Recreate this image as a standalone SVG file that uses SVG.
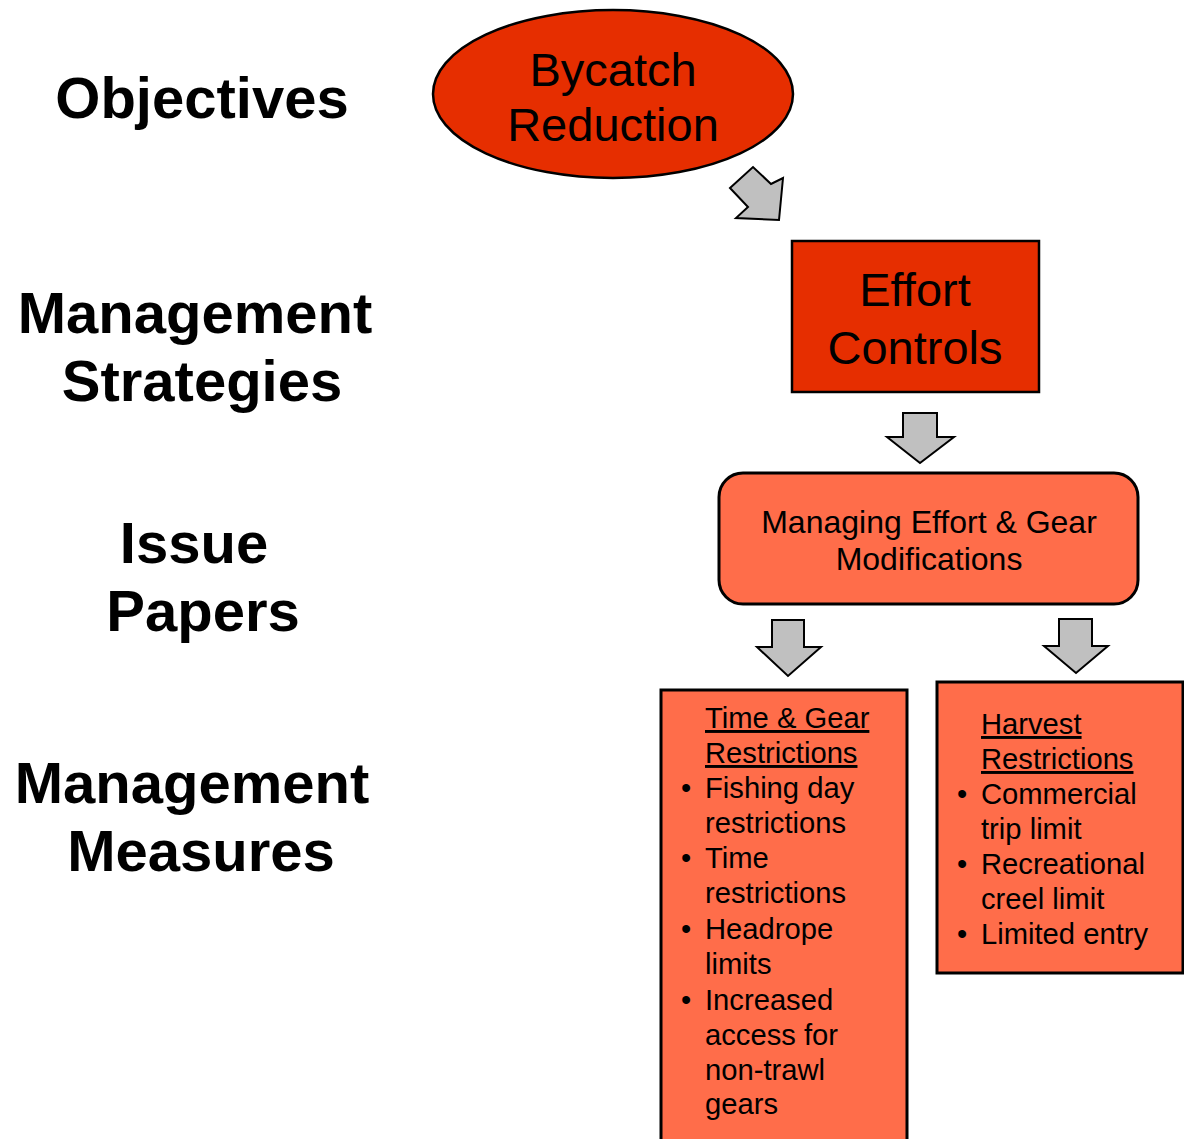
<svg xmlns="http://www.w3.org/2000/svg" width="1184" height="1139" viewBox="0 0 1184 1139">
<style>
  .lbl { font-family: "Liberation Sans", Arial, sans-serif; font-weight: bold; font-size: 58px; fill: #000; text-anchor: middle; }
  .big { font-family: "Liberation Sans", Arial, sans-serif; font-size: 47px; fill: #000; text-anchor: middle; }
  .mid { font-family: "Liberation Sans", Arial, sans-serif; font-size: 32px; fill: #000; text-anchor: middle; }
  .lst { font-family: "Liberation Sans", Arial, sans-serif; font-size: 29.2px; fill: #000; }
  .ul { text-decoration: underline; }
  .dark { fill: #E62E00; stroke: #000; stroke-width: 2.5; }
  .light { fill: #FF6D4A; stroke: #000; stroke-width: 3; }
  .arrow { fill: #C0C0C0; stroke: #000; stroke-width: 2; stroke-linejoin: miter; }
</style>
<rect width="1184" height="1139" fill="#fff"/>

<g id="labels">
  <text class="lbl" x="202" y="118">Objectives</text>
  <text class="lbl" x="195" y="333">Management</text>
  <text class="lbl" x="202" y="401">Strategies</text>
  <text class="lbl" x="194" y="563">Issue</text>
  <text class="lbl" x="203" y="631">Papers</text>
  <text class="lbl" x="192" y="803">Management</text>
  <text class="lbl" x="201" y="871">Measures</text>
</g>

<g id="connectors">
  <polygon class="arrow" points="730,188 753,167 771,184 783,178 779,220 736,218 748,207"/>
  <polygon class="arrow" points="903,413 937,413 937,437 954,437 920,463 887,437 903,437"/>
  <polygon class="arrow" points="772,620 804,620 804,647 821,647 788,676 757,647 772,647"/>
  <polygon class="arrow" points="1059,619 1092,619 1092,646 1108,646 1076,673 1044,646 1059,646"/>
</g>

<g id="bycatch-reduction">
  <ellipse class="dark" cx="613" cy="94" rx="180" ry="84" stroke-width="2"/>
  <text class="big" x="613" y="86">Bycatch</text>
  <text class="big" x="613" y="141">Reduction</text>
</g>

<g id="effort-controls">
  <rect class="dark" x="792" y="241" width="247" height="151"/>
  <text class="big" x="915" y="306">Effort</text>
  <text class="big" x="915" y="364">Controls</text>
</g>

<g id="managing-effort">
  <rect class="light" x="719" y="473" width="419" height="131" rx="24" ry="24" stroke-width="2.5"/>
  <text class="mid" x="929" y="533">Managing Effort &amp; Gear</text>
  <text class="mid" x="929" y="570">Modifications</text>
</g>

<g id="time-gear">
  <rect class="light" x="661" y="690" width="246" height="460"/>
  <text class="lst ul" x="705" y="728">Time &amp; Gear</text>
  <text class="lst ul" x="705" y="763">Restrictions</text>
  <text class="lst" x="686" y="798" text-anchor="middle">•</text>
  <text class="lst" x="705" y="798">Fishing day</text>
  <text class="lst" x="705" y="833">restrictions</text>
  <text class="lst" x="686" y="868" text-anchor="middle">•</text>
  <text class="lst" x="705" y="868">Time</text>
  <text class="lst" x="705" y="903">restrictions</text>
  <text class="lst" x="686" y="939" text-anchor="middle">•</text>
  <text class="lst" x="705" y="939">Headrope</text>
  <text class="lst" x="705" y="974">limits</text>
  <text class="lst" x="686" y="1010" text-anchor="middle">•</text>
  <text class="lst" x="705" y="1010">Increased</text>
  <text class="lst" x="705" y="1045">access for</text>
  <text class="lst" x="705" y="1080">non-trawl</text>
  <text class="lst" x="705" y="1114">gears</text>
</g>

<g id="harvest">
  <rect class="light" x="937" y="682" width="246" height="291"/>
  <text class="lst ul" x="981" y="734">Harvest</text>
  <text class="lst ul" x="981" y="769">Restrictions</text>
  <text class="lst" x="962" y="804" text-anchor="middle">•</text>
  <text class="lst" x="981" y="804">Commercial</text>
  <text class="lst" x="981" y="839">trip limit</text>
  <text class="lst" x="962" y="874" text-anchor="middle">•</text>
  <text class="lst" x="981" y="874">Recreational</text>
  <text class="lst" x="981" y="909">creel limit</text>
  <text class="lst" x="962" y="944" text-anchor="middle">•</text>
  <text class="lst" x="981" y="944">Limited entry</text>
</g>
</svg>
